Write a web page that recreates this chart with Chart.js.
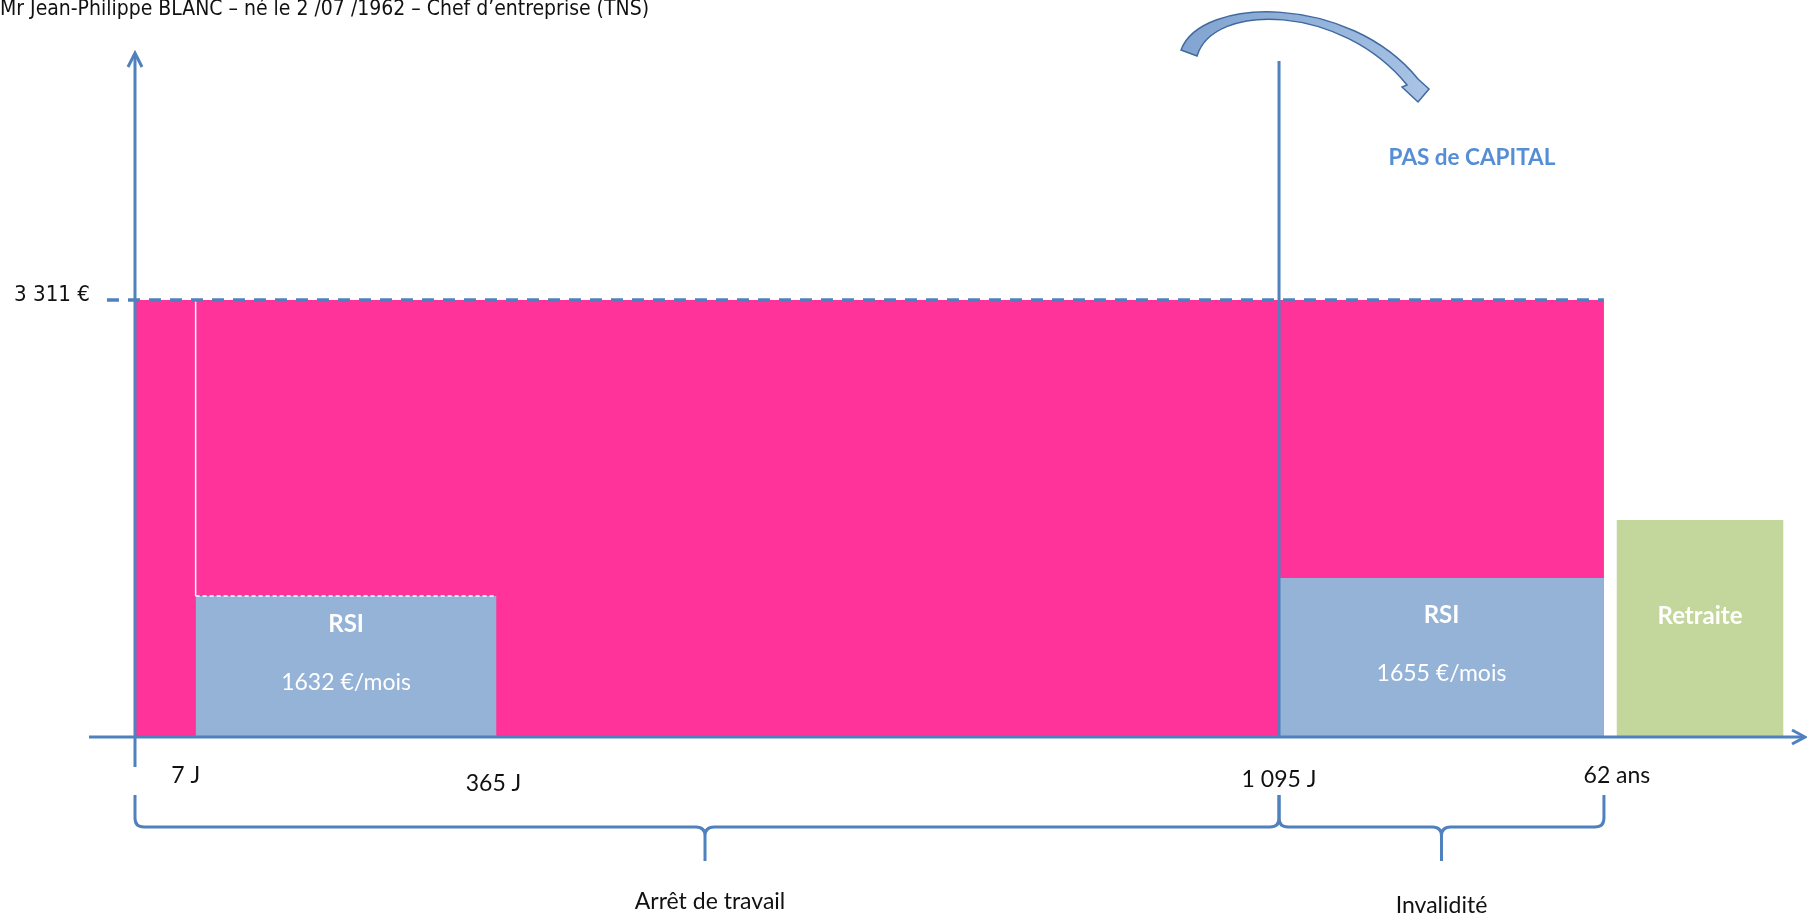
<!DOCTYPE html>
<html lang="fr">
<head>
<meta charset="utf-8">
<title>Prévoyance TNS</title>
<script src="https://cdn.jsdelivr.net/npm/chart.js"></script>
<style>
  html, body { margin: 0; padding: 0; background: #fff; }
  #wrap { width: 1807px; height: 917px; }
</style>
</head>
<body>
<div id="wrap"><canvas id="prevChart" width="1807" height="917"></canvas></div>
<script>
// Schematic time line (not to scale) - positions
const breakLabels = ['7 J', '365 J', '1 095 J', '62 ans'];
const breakPos = [5.3, 31.6, 100, 128.4];

// Blocks drawn on the time line
const blockNames = ['RSI', 'RSI', 'Retraite'];
const blockFrom = [5.3, 100, 129.5];
const blockTo = [31.6, 128.4, 144.1];
const blockHeight = [1068, 1205, 1644];
const blockAmount = ['1632 €/mois', '1655 €/mois', ''];

// Income level kept during the whole period
const revenu = 3311;
const revenuLabel = '3 311 €';
const dashStart = -2.45;

const periodNames = ['Arrêt de travail', 'Invalidité'];
const title = 'Mr Jean-Philippe BLANC – né le 2 /07 /1962 – Chef d’entreprise (TNS)';

const pink = '#ff3399';
const rsiBlue = '#95b3d7';
const green = '#c3d69b';
const axisBlue = '#4f81bd';

const blockColors = [rsiBlue, rsiBlue, green];

function rect(x0, x1, h) {
    return [{ x: x0, y: h }, { x: x1, y: h }];
}

const datasets = [];

// dashed income line on top
datasets.push({
    data: rect(dashStart, breakPos[3], revenu),
    borderColor: axisBlue,
    borderWidth: 3.5,
    borderDash: [12, 9],
    fill: false,
    order: 0
});

// thin white line on the left of first RSI block
datasets.push({
    data: [{ x: blockFrom[0], y: blockHeight[0] }, { x: blockFrom[0], y: revenu }],
    borderColor: '#ffffff',
    borderWidth: 1.5,
    fill: false,
    order: 1
});

blockNames.forEach((name, i) => {
    datasets.push({
        data: rect(blockFrom[i], blockTo[i], blockHeight[i]),
        backgroundColor: blockColors[i],
        borderColor: i === 0 ? '#ffffff' : blockColors[i],
        borderWidth: i === 0 ? 1.5 : 0,
        borderDash: i === 0 ? [4, 3] : [],
        fill: 'origin',
        order: 2
    });
});

// pink area: full income from day 0 to 62 ans
datasets.push({
    data: rect(0, breakPos[3], revenu),
    backgroundColor: pink,
    borderWidth: 0,
    borderColor: pink,
    fill: 'origin',
    order: 5
});

function brace(ctx, x1, x2, xm, yTop, yLine, yTip) {
    const r = 9;
    ctx.beginPath();
    ctx.moveTo(x1, yTop);
    ctx.lineTo(x1, yLine - r);
    ctx.quadraticCurveTo(x1, yLine, x1 + r, yLine);
    ctx.lineTo(xm - r, yLine);
    ctx.quadraticCurveTo(xm, yLine, xm, yLine + r);
    ctx.lineTo(xm, yTip);
    ctx.moveTo(xm, yLine + r);
    ctx.quadraticCurveTo(xm, yLine, xm + r, yLine);
    ctx.lineTo(x2 - r, yLine);
    ctx.quadraticCurveTo(x2, yLine, x2, yLine - r);
    ctx.lineTo(x2, yTop);
    ctx.stroke();
}

// draw text squeezed/stretched to a given width (the original uses Tahoma)
function fitText(ctx, txt, x, y, width, align) {
    const w = ctx.measureText(txt).width;
    ctx.save();
    ctx.textAlign = 'left';
    const left = align === 'right' ? x - width : x;
    ctx.translate(left, y);
    ctx.scale(width / w, 1);
    ctx.fillText(txt, 0, 0);
    ctx.restore();
}

const schemaPlugin = {
    id: 'schema',
    afterDatasetsDraw(chart) {
        const ctx = chart.ctx;
        const xs = chart.scales.x, ys = chart.scales.y;
        const x0 = xs.getPixelForValue(0);
        const y0 = ys.getPixelForValue(0);
        const xInval = xs.getPixelForValue(breakPos[2]);
        const xEnd = xs.getPixelForValue(breakPos[3]);
        ctx.save();
        ctx.lineCap = 'butt';

        // axes
        ctx.strokeStyle = axisBlue;
        ctx.lineWidth = 3;
        ctx.beginPath();
        ctx.moveTo(x0, y0 + 30);
        ctx.lineTo(x0, 54);
        ctx.moveTo(89, y0);
        ctx.lineTo(1803, y0);
        ctx.stroke();
        ctx.lineJoin = 'miter';
        ctx.beginPath();
        ctx.moveTo(x0 - 7, 67);
        ctx.lineTo(x0, 53);
        ctx.lineTo(x0 + 7, 67);
        ctx.moveTo(1792, y0 - 7);
        ctx.lineTo(1805, y0);
        ctx.lineTo(1792, y0 + 7);
        ctx.stroke();

        // invalidity line
        ctx.beginPath();
        ctx.moveTo(xInval, 61);
        ctx.lineTo(xInval, y0);
        ctx.stroke();

        // braces
        ctx.lineWidth = 3;
        brace(ctx, x0, xInval, (x0 + xInval) / 2 - 2, 795, 827, 861);
        brace(ctx, xInval, xEnd, (xInval + xEnd) / 2, 795, 827, 861);

        // curved arrow
        const a = xInval;
        const grad = ctx.createLinearGradient(a - 100, 0, a + 150, 100);
        grad.addColorStop(0, '#7fa2cf');
        grad.addColorStop(1, '#a9c4e6');
        ctx.fillStyle = grad;
        ctx.strokeStyle = '#41699e';
        ctx.lineWidth = 1.5;
        ctx.beginPath();
        ctx.moveTo(a - 98, 50);
        ctx.bezierCurveTo(a - 78, -4, a + 70, -6, a + 139, 79);
        ctx.lineTo(a + 150, 89);
        ctx.lineTo(a + 139, 102);
        ctx.lineTo(a + 123, 87);
        ctx.lineTo(a + 128, 85);
        ctx.bezierCurveTo(a + 62, 4, a - 66, 2, a - 82, 56);
        ctx.closePath();
        ctx.fill();
        ctx.stroke();

        // texts
        ctx.fillStyle = '#111';
        ctx.textBaseline = 'middle';
        ctx.font = '20.5px "DejaVu Sans Condensed", "DejaVu Sans", sans-serif';
        fitText(ctx, title, 0, 10, 649, 'left');
        fitText(ctx, revenuLabel, 90, ys.getPixelForValue(revenu) - 4, 76, 'right');

        ctx.font = '23px Lato, "Open Sans", sans-serif';
        ctx.textAlign = 'center';
        const labelShift = [[-10, 776], [-3, 784], [0, 780], [13, 776]];
        breakLabels.forEach((lab, i) => {
            ctx.fillText(lab, xs.getPixelForValue(breakPos[i]) + labelShift[i][0], labelShift[i][1]);
        });
        ctx.fillText(periodNames[0], (x0 + xInval) / 2 + 3, 902);
        ctx.fillText(periodNames[1], (xInval + xEnd) / 2, 906);

        ctx.fillStyle = '#558ed5';
        ctx.font = 'bold 22.5px Lato, "Open Sans", sans-serif';
        ctx.fillText('PAS de CAPITAL', a + 193, 158);

        ctx.fillStyle = '#ffffff';
        blockNames.forEach((name, i) => {
            const cx = (xs.getPixelForValue(blockFrom[i]) + xs.getPixelForValue(blockTo[i])) / 2;
            const cy = (ys.getPixelForValue(blockHeight[i]) + y0) / 2;
            ctx.font = 'bold 24px Lato, "Open Sans", sans-serif';
            if (blockAmount[i]) {
                ctx.fillText(name, cx, cy - 42);
                ctx.font = '23px Lato, "Open Sans", sans-serif';
                ctx.fillText(blockAmount[i], cx, cy + 16);
            } else {
                ctx.fillText(name, cx, cy - 12);
            }
        });
        ctx.restore();
    }
};

new Chart(document.getElementById('prevChart'), {
    type: 'line',
    data: { datasets: datasets },
    options: {
        responsive: false,
        animation: false,
        events: [],
        layout: { padding: 0 },
        elements: { point: { radius: 0 }, line: { tension: 0 } },
        plugins: { legend: { display: false }, tooltip: { enabled: false } },
        scales: {
            x: { type: 'linear', display: false, min: -11.8, max: 146.15 },
            y: { type: 'linear', display: false, min: -1363.8, max: 5584.1 }
        }
    },
    plugins: [schemaPlugin]
});
</script>
</body>
</html>
